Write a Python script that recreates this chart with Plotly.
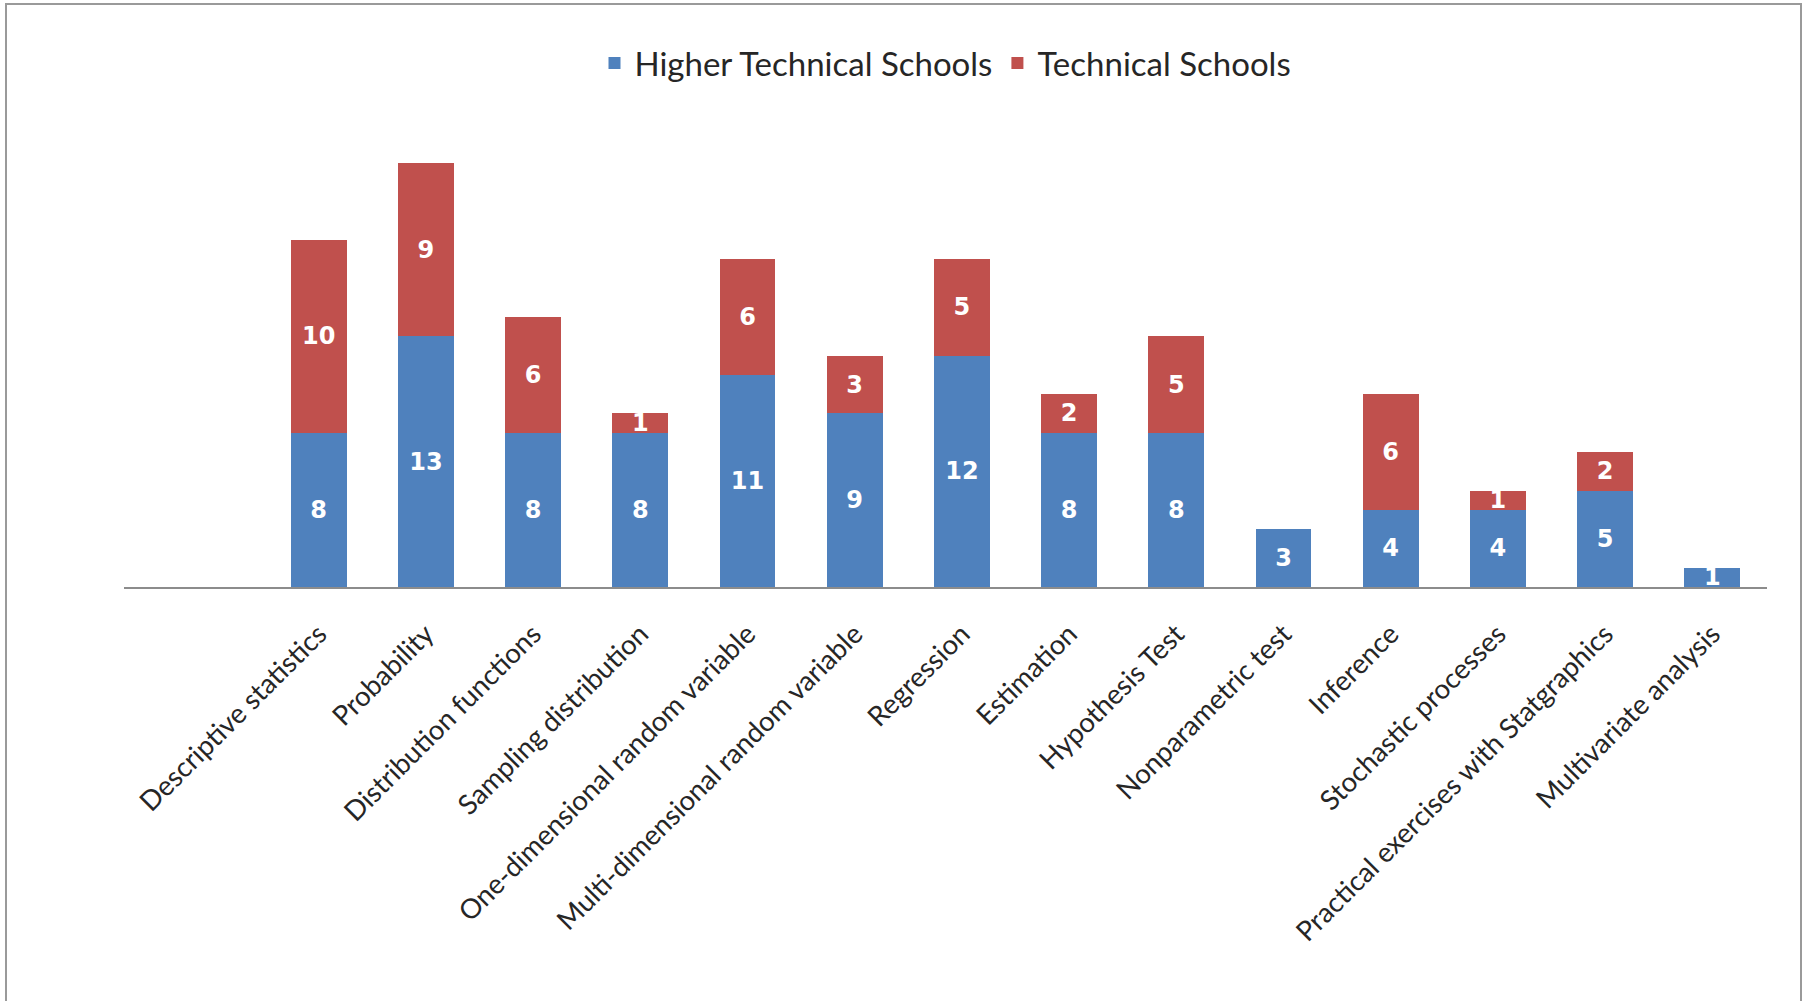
import plotly.graph_objects as go

categories = [
    "Descriptive statistics", "Probability", "Distribution functions",
    "Sampling distribution", "One-dimensional random variable",
    "Multi-dimensional random variable", "Regression", "Estimation",
    "Hypothesis Test", "Nonparametric test", "Inference",
    "Stochastic processes", "Practical exercises with Statgraphics",
    "Multivariate analysis",
]
higher_technical = [8, 13, 8, 8, 11, 9, 12, 8, 8, 3, 4, 4, 5, 1]
technical = [10, 9, 6, 1, 6, 3, 5, 2, 5, 0, 6, 1, 2, 0]

W, H = 1805, 1001
L, R, T, B = 124, 38, 105, 414

label_font = dict(family="DejaVu Sans", size=24, color="white")

fig = go.Figure()
fig.add_trace(go.Bar(
    name="Higher Technical Schools",
    x=list(range(len(categories))), y=higher_technical,
    marker=dict(color="#4F81BD", line=dict(width=0)),
    text=[f"<b>{v}</b>" if v else "" for v in higher_technical],
    textposition="inside", insidetextanchor="middle", textangle=0,
    constraintext="none", textfont=label_font, width=0.52,
))
fig.add_trace(go.Bar(
    name="Technical Schools",
    x=list(range(len(categories))), y=technical,
    marker=dict(color="#C0504D", line=dict(width=0)),
    text=[f"<b>{v}</b>" if v else "" for v in technical],
    textposition="inside", insidetextanchor="middle", textangle=0,
    constraintext="none", textfont=label_font, width=0.52,
))

pw = W - L - R
ph = H - T - B
def px_x(p):
    return (p - L) / pw
def px_y(p):
    return (H - B - p) / ph

fig.add_shape(type="rect", xref="paper", yref="paper",
              x0=px_x(6), x1=px_x(1801), y0=px_y(1004), y1=px_y(4),
              line=dict(color="#9a9a9a", width=2), fillcolor="rgba(0,0,0,0)",
              layer="below")

fig.update_layout(
    width=W, height=H,
    margin=dict(l=L, r=R, t=T, b=B),
    barmode="stack",
    paper_bgcolor="white", plot_bgcolor="white",
    showlegend=True,
    legend=dict(orientation="h", x=0.5, xanchor="center",
                y=px_y(63), yanchor="middle", traceorder="normal",
                font=dict(family="Lato", size=33, color="#262626"),
                itemwidth=30, tracegroupgap=0, bgcolor="rgba(0,0,0,0)"),
    xaxis=dict(
        range=[-1.816, 13.51],
        tickmode="array", tickvals=list(range(len(categories))),
        ticktext=categories, tickangle=-45,
        tickfont=dict(family="Lato", size=27.5, color="#262626"),
        showgrid=False, zeroline=False,
        showline=True, linecolor="#8c8c8c", linewidth=2,
        ticks="", ticklabelstandoff=18,
    ),
    yaxis=dict(range=[0, 25], visible=False, showgrid=False, zeroline=False),
    uniformtext=dict(mode=False),
)

fig.write_html("out.html",
               config={"displayModeBar": False},
               post_script="document.body.style.margin='0';document.body.style.overflow='hidden';")
